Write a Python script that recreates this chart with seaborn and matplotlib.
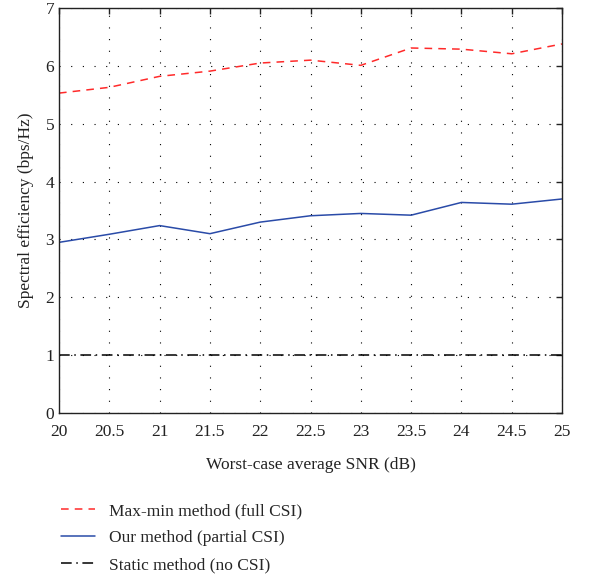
import matplotlib
matplotlib.use("Agg")
import matplotlib.pyplot as plt
import seaborn as sns
import pandas as pd

snr = [20, 20.5, 21, 21.5, 22, 22.5, 23, 23.5, 24, 24.5, 25]
maxmin = [5.53, 5.63, 5.82, 5.91, 6.05, 6.10, 6.01, 6.31, 6.29, 6.21, 6.38]
ours = [2.95, 3.09, 3.24, 3.10, 3.30, 3.41, 3.45, 3.42, 3.64, 3.61, 3.70]
static = [1.0] * 11

labels = ["Max-min method (full CSI)", "Our method (partial CSI)", "Static method (no CSI)"]

sns.set_style("white")
plt.rcParams["font.family"] = ["Liberation Serif", "DejaVu Serif"]
plt.rcParams["font.size"] = 12.5

df = pd.DataFrame({
    "snr": snr * 3,
    "eff": maxmin + ours + static,
    "method": [labels[0]] * 11 + [labels[1]] * 11 + [labels[2]] * 11,
})

fig = plt.figure(figsize=(6, 5.77), dpi=100)
ax = fig.add_axes([0.0983, 0.2842, 0.8384, 0.7018])

styles = {labels[0]: ("#ff2a2a", (0, (5, 4))),
          labels[1]: ("#2a4ba8", "-"),
          labels[2]: ("black", (0, (7, 3, 1, 3)))}

for lab in labels:
    sub = df[df["method"] == lab]
    color, ls = styles[lab]
    sns.lineplot(data=sub, x="snr", y="eff", ax=ax, color=color,
                 linestyle=ls, linewidth=1.1, label=lab)

ax.set_xlim(20, 25)
ax.set_ylim(0, 7)
ax.set_xticks(snr)
ax.set_xticklabels(["20", "20.5", "21", "21.5", "22", "22.5", "23", "23.5", "24", "24.5", "25"])
ax.set_yticks(range(8))
ax.grid(True, color="black", linestyle=(0, (1, 9.5)), linewidth=0.8)
ax.tick_params(axis="x", pad=8)
ax.tick_params(direction="in", top=True, right=True, length=4, width=1, colors="#222222")
for s in ax.spines.values():
    s.set_color("#222222")
    s.set_linewidth(1.0)
ax.set_xlabel("Worst-case average SNR (dB)", labelpad=12, color="#222222")
ax.set_ylabel("Spectral efficiency (bps/Hz)", labelpad=8, color="#222222")

handles, labs = ax.get_legend_handles_labels()
ax.legend_.remove()
fig.legend(handles, labs, loc="upper left", bbox_to_anchor=(0.075, 0.155),
           frameon=False, handlelength=2.0, labelspacing=0.62, handletextpad=0.8)

fig.savefig("out.png", dpi=100)
